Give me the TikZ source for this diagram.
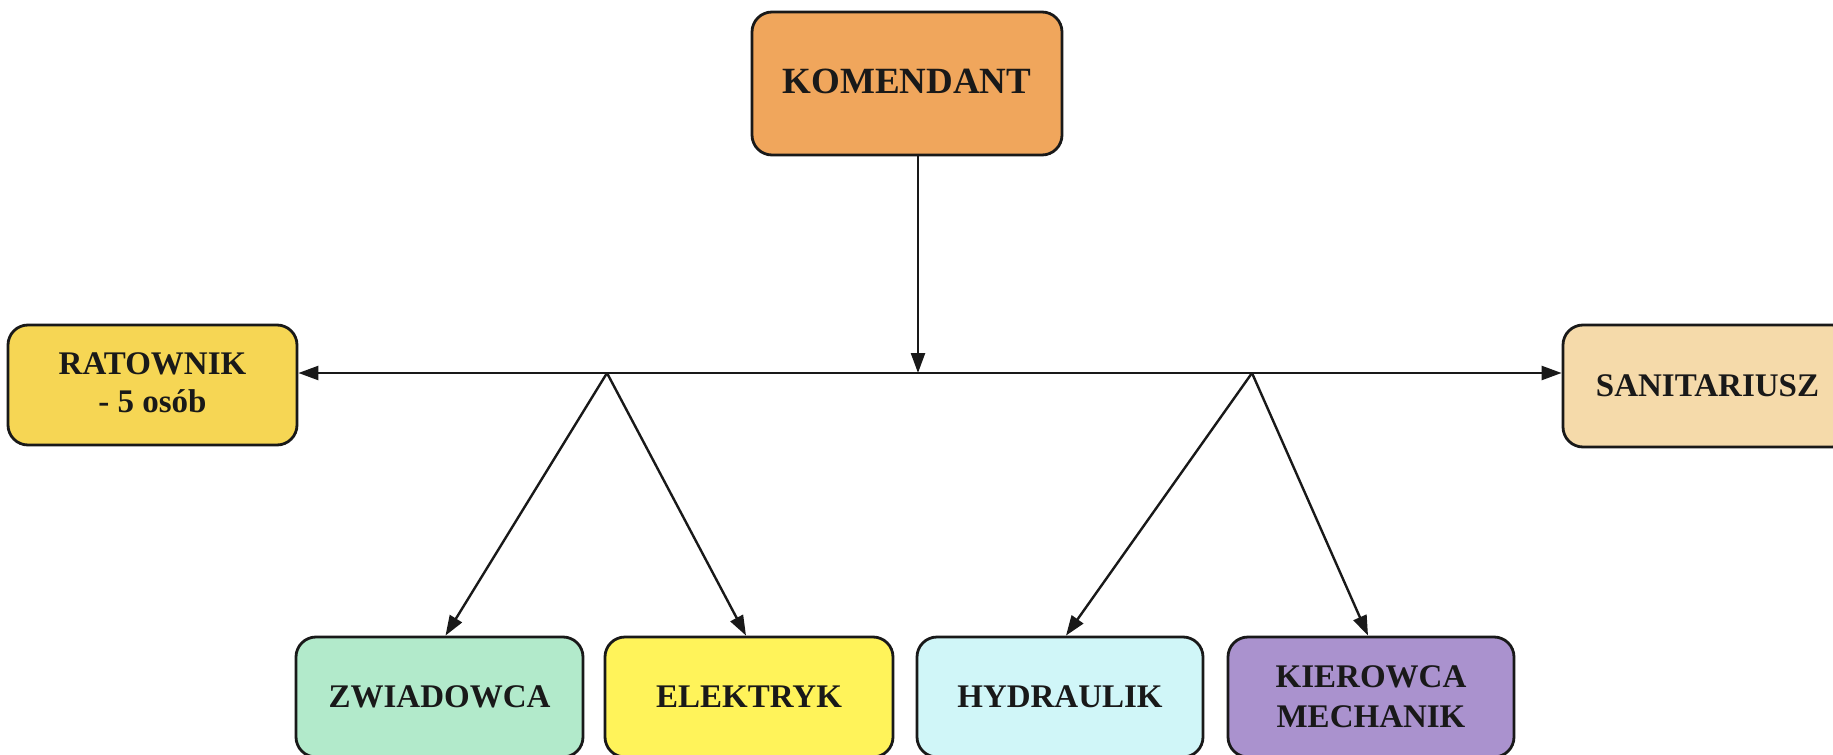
\documentclass[tikz,border=0pt]{standalone}
\usepackage{fontspec}
\setmainfont{Liberation Serif}
\usetikzlibrary{arrows.meta}
\definecolor{cKom}{HTML}{F0A65C}
\definecolor{cRat}{HTML}{F6D654}
\definecolor{cSan}{HTML}{F5DAAA}
\definecolor{cZwi}{HTML}{B2EACB}
\definecolor{cEle}{HTML}{FFF35A}
\definecolor{cHyd}{HTML}{D0F6F8}
\definecolor{cKie}{HTML}{AA92CE}
\tikzset{
  box/.style={draw=black!90, line width=1.4pt, rounded corners=10pt, align=center,
    font=\fontsize{16.5}{20}\selectfont\bfseries, text=black!90, inner sep=0pt},
  conn/.style={line width=1.2pt, draw=black!90},
  tip/.style={-{Triangle[length=10pt,width=7pt]}},
}
\begin{document}
\begin{tikzpicture}[x=0.5pt,y=-0.5pt]
\clip (0,0) rectangle (1833,755);
\fill[white] (0,0) rectangle (1833,755);
% nodes
\node[box, fill=cKom, minimum width=155pt, minimum height=71.5pt,
  font=\fontsize{18.5}{22}\selectfont\bfseries] (kom) at (907,83.5) {\raisebox{2.5pt}{KOMENDANT}};
\node[box, fill=cRat, minimum width=144.5pt, minimum height=60pt] (rat) at (152.5,385) {\raisebox{2pt}{\begin{tabular}{@{}c@{}}RATOWNIK\\[-1pt]- 5 osób\end{tabular}}};
\node[box, fill=cSan, minimum width=144.5pt, minimum height=61pt] (san) at (1707.5,386) {SANITARIUSZ};
\node[box, fill=cZwi, minimum width=143.5pt, minimum height=60pt] (zwi) at (439.5,697) {ZWIADOWCA};
\node[box, fill=cEle, minimum width=144pt, minimum height=60pt] (ele) at (749,697) {ELEKTRYK};
\node[box, fill=cHyd, minimum width=143pt, minimum height=60pt] (hyd) at (1060,697) {HYDRAULIK};
\node[box, fill=cKie, minimum width=143pt, minimum height=60pt] (kie) at (1371,697) {KIEROWCA\\MECHANIK};
% junction coordinates
\coordinate (jn) at (918,373);
\coordinate (bl) at (607,373);
\coordinate (br) at (1252,373);
% connectors
\draw[conn, tip] (kom.south -| jn) -- (jn);
\draw[conn, {Triangle[length=10pt,width=7pt]}-{Triangle[length=10pt,width=7pt]}] (rat.east |- jn) -- (san.west |- jn);
\draw[conn, tip] (bl) -- ([xshift=3pt]zwi.north);
\draw[conn, tip] (bl) -- ([xshift=-1.5pt]ele.north);
\draw[conn, tip] (br) -- ([xshift=3pt]hyd.north);
\draw[conn, tip] (br) -- ([xshift=-1.5pt]kie.north);
\end{tikzpicture}
\end{document}
